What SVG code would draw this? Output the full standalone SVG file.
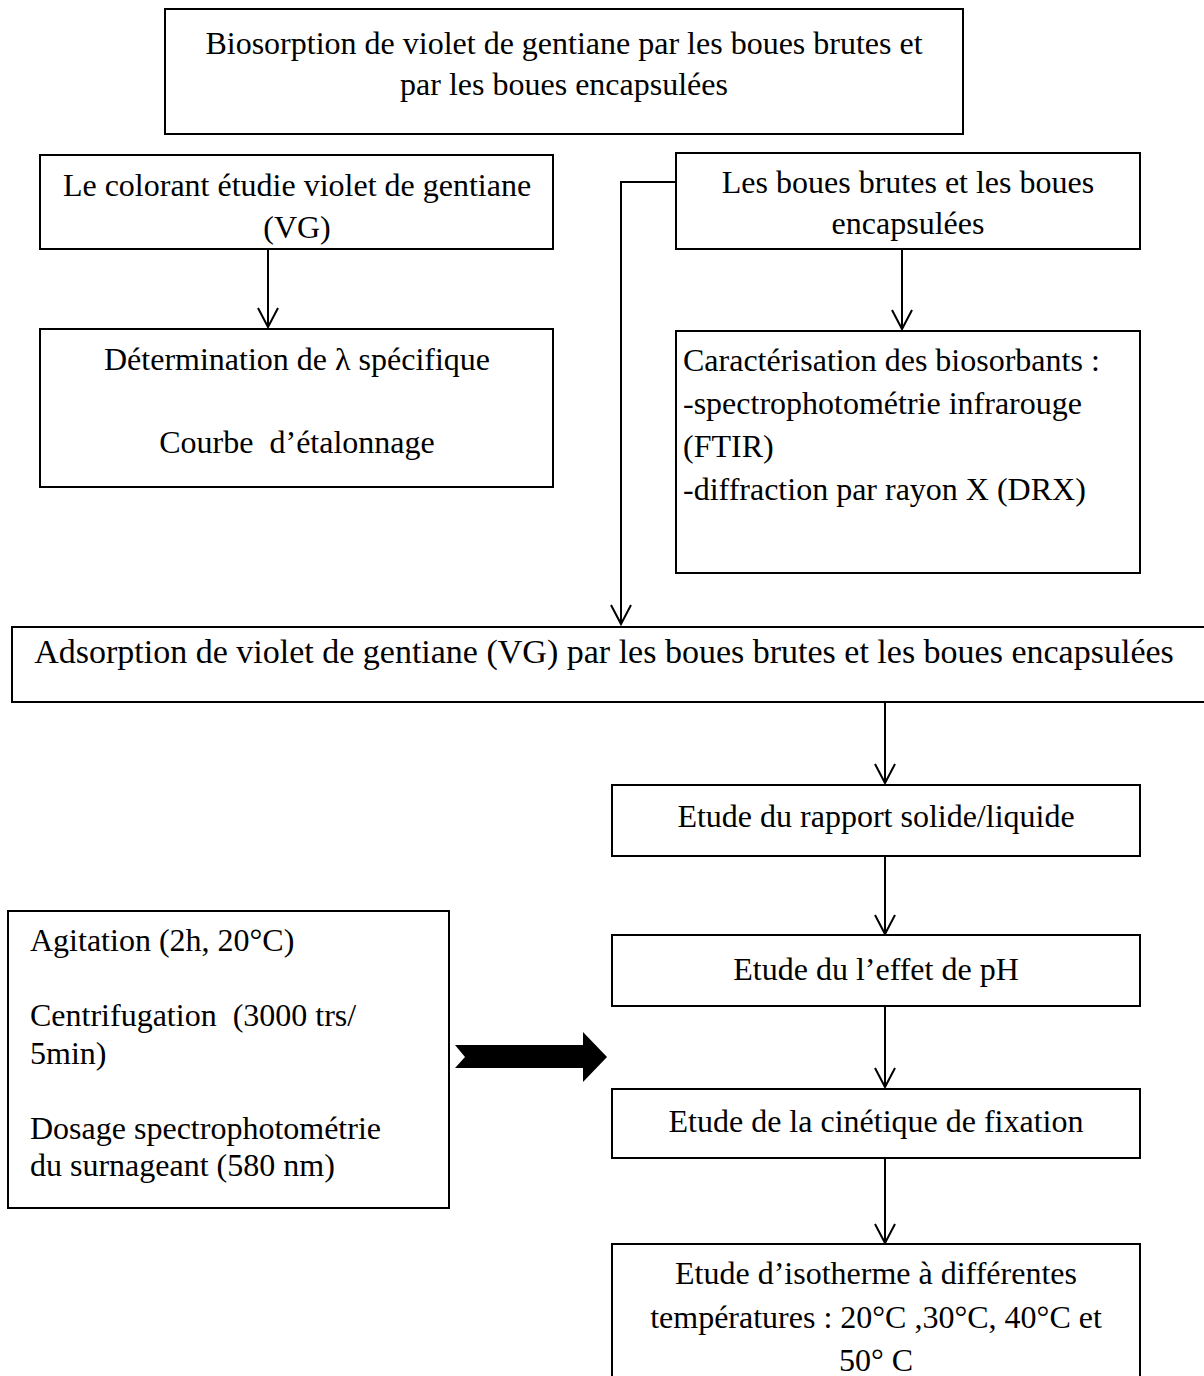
<svg xmlns="http://www.w3.org/2000/svg" width="1204" height="1376" viewBox="0 0 1204 1376">
<style>
.box{fill:#fff;stroke:#000;stroke-width:2}
.t{font-family:"Liberation Serif","Times New Roman",serif;font-size:32px;fill:#000}
.c{text-anchor:middle}
.ln{fill:none;stroke:#000;stroke-width:2}
</style>
<rect x="0" y="0" width="1204" height="1376" fill="#fff"/>
<g id="connectors">
<line class="ln" x1="268" y1="249" x2="268" y2="327"/>
<path class="ln" d="M258,308 L268,327 L278,308"/>
<path class="ln" d="M676,182 H621 V624"/>
<path class="ln" d="M611,605 L621,624 L631,605"/>
<line class="ln" x1="902" y1="249" x2="902" y2="329"/>
<path class="ln" d="M892,310 L902,329 L912,310"/>
<line class="ln" x1="885" y1="703" x2="885" y2="783"/>
<path class="ln" d="M875,764 L885,783 L895,764"/>
<line class="ln" x1="885" y1="856" x2="885" y2="934"/>
<path class="ln" d="M875,915 L885,934 L895,915"/>
<line class="ln" x1="885" y1="1006" x2="885" y2="1087"/>
<path class="ln" d="M875,1068 L885,1087 L895,1068"/>
<line class="ln" x1="885" y1="1158" x2="885" y2="1243"/>
<path class="ln" d="M875,1224 L885,1243 L895,1224"/>
<polygon points="455,1045 583,1045 583,1032 607,1057 583,1082 583,1068 455,1068 465,1057" fill="#000"/>
</g>
<g id="n-top">
<rect class="box" x="165" y="9" width="798" height="125"/>
<text class="t c" x="564" y="54">Biosorption de violet de gentiane par les boues brutes et</text>
<text class="t c" x="564" y="95">par les boues encapsulées</text>
</g>
<g id="n-colorant">
<rect class="box" x="40" y="155" width="513" height="94"/>
<text class="t c" x="297" y="196">Le colorant étudie violet de gentiane</text>
<text class="t c" x="297" y="238">(VG)</text>
</g>
<g id="n-lambda">
<rect class="box" x="40" y="329" width="513" height="158"/>
<text class="t c" x="297" y="370">Détermination de λ spécifique</text>
<text class="t c" x="297" y="453" xml:space="preserve">Courbe  d’étalonnage</text>
</g>
<g id="n-boues">
<rect class="box" x="676" y="153" width="464" height="96"/>
<text class="t c" x="908" y="193">Les boues brutes et les boues</text>
<text class="t c" x="908" y="234">encapsulées</text>
</g>
<g id="n-carac">
<rect class="box" x="676" y="331" width="464" height="242"/>
<text class="t" x="683" y="371">Caractérisation des biosorbants :</text>
<text class="t" x="683" y="414">-spectrophotométrie infrarouge</text>
<text class="t" x="683" y="457">(FTIR)</text>
<text class="t" x="683" y="500">-diffraction par rayon X (DRX)</text>
</g>
<g id="n-adsorption">
<rect class="box" x="12" y="627" width="1200" height="75"/>
<text class="t c" x="604" y="663" style="font-size:34px">Adsorption de violet de gentiane (VG) par les boues brutes et les boues encapsulées</text>
</g>
<g id="n-rapport">
<rect class="box" x="612" y="785" width="528" height="71"/>
<text class="t c" x="876" y="827">Etude du rapport solide/liquide</text>
</g>
<g id="n-ph">
<rect class="box" x="612" y="935" width="528" height="71"/>
<text class="t c" x="876" y="980">Etude du l’effet de pH</text>
</g>
<g id="n-cinetique">
<rect class="box" x="612" y="1089" width="528" height="69"/>
<text class="t c" x="876" y="1132">Etude de la cinétique de fixation</text>
</g>
<g id="n-isotherme">
<rect class="box" x="612" y="1244" width="528" height="140"/>
<text class="t c" x="876" y="1284">Etude d’isotherme à différentes</text>
<text class="t c" x="876" y="1328">températures : 20°C ,30°C, 40°C et</text>
<text class="t c" x="876" y="1371">50° C</text>
</g>
<g id="n-agitation">
<rect class="box" x="8" y="911" width="441" height="297"/>
<text class="t" x="30" y="951">Agitation (2h, 20°C)</text>
<text class="t" x="30" y="1026" xml:space="preserve">Centrifugation  (3000 trs/</text>
<text class="t" x="30" y="1064">5min)</text>
<text class="t" x="30" y="1139">Dosage spectrophotométrie</text>
<text class="t" x="30" y="1176">du surnageant (580 nm)</text>
</g>
</svg>
